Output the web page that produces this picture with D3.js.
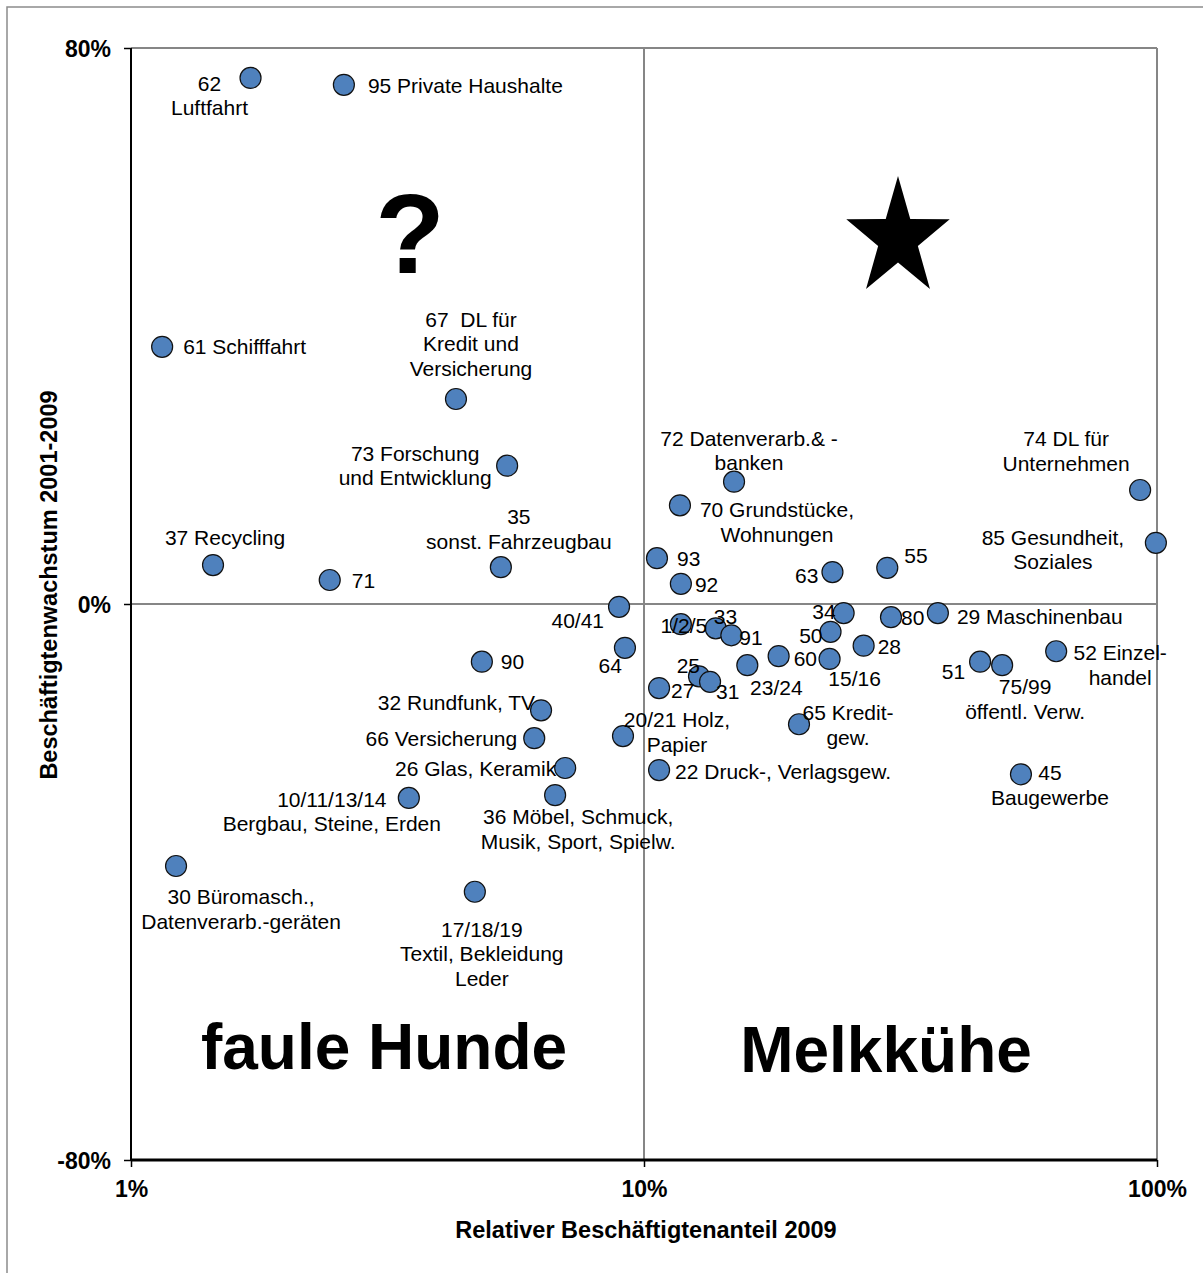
<!DOCTYPE html>
<html>
<head>
<meta charset="utf-8">
<script src="https://cdn.jsdelivr.net/npm/d3@7"></script>
<style>
body{margin:0;background:#fff;}
text{font-family:"Liberation Sans",Arial,sans-serif;}
.lbl{font-size:21px;fill:#000;white-space:pre;}
.axis text{font-size:23px;font-weight:bold;fill:#000;}
.title{font-size:23.5px;font-weight:bold;}
.quad{font-size:64px;font-weight:bold;}
</style>
</head>
<body>
<svg id="chart" width="1203" height="1273"></svg>
<script>
// branch codes (WZ)
var codes=["62","95","61","67","73","72","70","74","85","37","71","35","93","92","63","55",
"40/41","34","80","29","1/2/5","33","91","50","28","64","90","60","15/16","23/24","52","51",
"75/99","45","25","31","27","32","65","66","20/21","26","22","10/11/13/14","36","30","17/18/19"];

// label lines as shown in the chart
var labels=[["62","Luftfahrt"],["95 Private Haushalte"],["61 Schifffahrt"],
["67  DL für","Kredit und","Versicherung"],["73 Forschung","und Entwicklung"],
["72 Datenverarb.& -","banken"],["70 Grundstücke,","Wohnungen"],["74 DL für","Unternehmen"],
["85 Gesundheit,","Soziales"],["37 Recycling"],["71"],["35","sonst. Fahrzeugbau"],["93"],["92"],
["63"],["55"],["40/41"],["34"],["80"],["29 Maschinenbau"],["1/2/5"],["33"],["91"],["50"],["28"],
["64"],["90"],["60"],["15/16"],["23/24"],["52 Einzel-","handel"],["51"],["75/99","öffentl. Verw."],
["45","Baugewerbe"],["25"],["31"],["27"],["32 Rundfunk, TV"],["65 Kredit-","gew."],["66 Versicherung"],
["20/21 Holz,","Papier"],["26 Glas, Keramik"],["22 Druck-, Verlagsgew."],
["10/11/13/14","Bergbau, Steine, Erden"],["36 Möbel, Schmuck,","Musik, Sport, Spielw."],
["30 Büromasch.,","Datenverarb.-geräten"],["17/18/19","Textil, Bekleidung","Leder"]];

// relative employment share 2009 (%)
var share=[1.71,2.60,1.15,4.30,5.41,14.98,11.75,92.7,99.5,1.445,2.44,5.26,10.6,11.8,23.3,29.8,
8.94,24.5,30.3,37.4,11.8,13.8,14.8,23.1,26.8,9.18,4.83,18.3,23.0,15.9,63.6,45.2,
49.9,54.3,12.8,13.45,10.7,6.30,20.05,6.11,9.10,7.02,10.7,3.48,6.71,1.224,4.68];

// employment growth 2001-2009 (%)
var growth=[75.7,74.7,37.0,29.5,19.9,17.6,14.2,16.4,8.8,5.6,3.45,5.3,6.6,2.9,4.6,5.2,
-0.4,-1.3,-1.9,-1.3,-2.9,-3.5,-4.5,-4.0,-6.0,-6.3,-8.3,-7.5,-7.9,-8.8,-6.8,-8.3,
-8.8,-24.5,-10.4,-11.2,-12.1,-15.3,-17.3,-19.3,-19.0,-23.6,-23.9,-27.9,-27.5,-37.7,-41.4];

var xTicks=[1,10,100];
var yTicks=[-80,0,80];

// label placement relative to marker: dx, dy of first baseline, anchor
var place={
"62":[-41,13,"middle"],"95":[24,8,"start"],"61":[21,7,"start"],"67":[15,-72,"middle"],
"73":[-92,-5,"middle"],"72":[15,-36,"middle"],"70":[97,12,"middle"],"74":[-74,-44,"middle"],
"85":[-103,2,"middle"],"37":[12,-20,"middle"],"71":[22,8,"start"],"35":[18,-43,"middle"],
"93":[20,8,"start"],"92":[14,8,"start"],"63":[-14,11,"end"],"55":[17,-5,"start"],
"40/41":[-15,21,"end"],"34":[-8,6,"end"],"80":[10,8,"start"],"29":[19,11,"start"],
"1/2/5":[3,9,"middle"],"33":[-2,-4,"start"],"91":[8,10,"start"],"50":[-8,11,"end"],
"28":[14,8,"start"],"64":[-3,25,"end"],"90":[19,7,"start"],"60":[15,10,"start"],
"15/16":[25,27,"middle"],"23/24":[29,30,"middle"],"52":[64,9,"middle"],"51":[-15,17,"end"],
"75/99":[23,29,"middle"],"45":[29,6,"middle"],"25":[1,-3,"end"],"31":[6,17,"start"],
"27":[12,10,"start"],"32":[-6,0,"end"],"65":[49,-4,"middle"],"66":[-17,8,"end"],
"20/21":[54,-9,"middle"],"26":[-9,8,"end"],"22":[16,9,"start"],"10/11/13/14":[-77,9,"middle"],
"36":[23,29,"middle"],"30":[65,38,"middle"],"17/18/19":[7,45,"middle"]
};

var svg=d3.select("#chart");
var L=131,R=1157,T=48,B=1160;
var lineH=24.5;

var x=d3.scaleLog().domain([1,100]).range([L,R]);
var y=d3.scaleLinear().domain([-80,80]).range([B,T]);

// outer frame
svg.append("rect").attr("x",7).attr("y",7).attr("width",1200).attr("height",1270)
	.attr("fill","none").attr("stroke","#8c8c8c").attr("stroke-width",1.5);

// plot border + quadrant lines
var grid=svg.append("g").attr("stroke","#868686").attr("stroke-width",2);
grid.append("line").attr("x1",L).attr("x2",R).attr("y1",T).attr("y2",T);
grid.append("line").attr("x1",R).attr("x2",R).attr("y1",T).attr("y2",B);
grid.append("line").attr("x1",L).attr("x2",R).attr("y1",y(0)).attr("y2",y(0));
grid.append("line").attr("x1",x(10)).attr("x2",x(10)).attr("y1",T).attr("y2",B);

// axes
var yAxis=d3.axisLeft(y).tickValues(yTicks).tickSize(7).tickPadding(13).tickFormat(function(d){return d+"%";});
var gy=svg.append("g").attr("class","axis").attr("transform","translate("+L+",0)").call(yAxis);
gy.select(".domain").attr("stroke","#000").attr("stroke-width",2).attr("d","M0,"+T+"V"+B);
gy.selectAll(".tick line").attr("stroke","#000").attr("stroke-width",1.5);
gy.selectAll("text").attr("dy","0.36em");

var xAxis=d3.axisBottom(x).tickValues(xTicks).tickSize(7).tickPadding(14).tickFormat(function(d){return d+"%";});
var gx=svg.append("g").attr("class","axis").attr("transform","translate(0,"+B+")").call(xAxis);
gx.select(".domain").attr("stroke","#000").attr("stroke-width",3).attr("d","M"+L+",0H"+R);
gx.selectAll(".tick line").attr("stroke","#000").attr("stroke-width",1.5);

// axis titles
svg.append("text").attr("class","title").attr("x",646).attr("y",1238)
	.attr("text-anchor","middle").text("Relativer Beschäftigtenanteil 2009");
svg.append("text").attr("class","title").attr("transform","translate(57,585) rotate(-90)")
	.attr("text-anchor","middle").text("Beschäftigtenwachstum 2001-2009");

// quadrant decorations
svg.append("text").attr("class","quad").attr("x",384).attr("y",1069)
	.attr("text-anchor","middle").text("faule Hunde");
svg.append("text").attr("class","quad").attr("x",886).attr("y",1072)
	.attr("text-anchor","middle").text("Melkkühe");
svg.append("text").attr("x",410).attr("y",273).attr("text-anchor","middle")
	.attr("font-size",114).attr("font-weight","bold").text("?");
var starPts=d3.range(10).map(function(i){
	var a=-Math.PI/2+i*Math.PI/5, r=(i%2==0)?62.5:24;
	return [898+0.87*r*Math.cos(a),238.5+r*Math.sin(a)];
});
svg.append("polygon").attr("points",starPts.map(function(p){return p.join(",");}).join(" ")).attr("fill","#000");

// markers
var idx=d3.range(codes.length);
svg.append("g").selectAll("circle").data(idx).enter().append("circle")
	.attr("cx",function(i){return x(share[i]);})
	.attr("cy",function(i){return y(growth[i]);})
	.attr("r",10.5)
	.attr("fill","#4f81bd").attr("stroke","#111").attr("stroke-width",1.2);

// labels
var gl=svg.append("g");
idx.forEach(function(i){
	var p=place[codes[i]];
	var t=gl.append("text").attr("class","lbl")
		.attr("x",x(share[i])+p[0]).attr("y",y(growth[i])+p[1])
		.attr("text-anchor",p[2]);
	labels[i].forEach(function(s,j){
		t.append("tspan").attr("x",x(share[i])+p[0]).attr("dy",j==0?0:lineH).text(s);
	});
});
</script>
</body>
</html>
